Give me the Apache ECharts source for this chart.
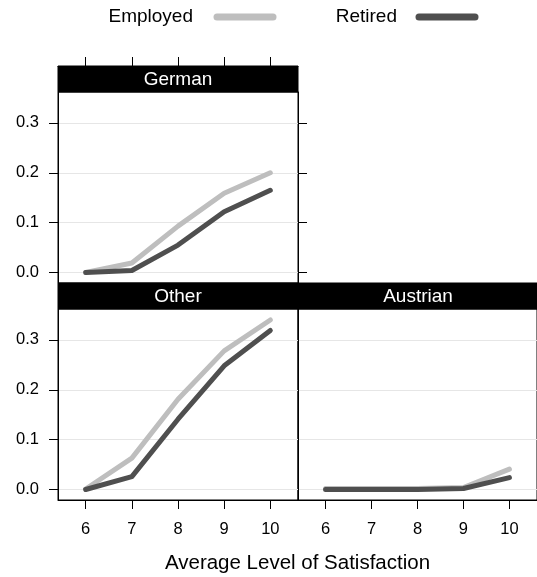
<!DOCTYPE html>
<html>
<head>
<meta charset="utf-8">
<script src="https://cdn.jsdelivr.net/npm/echarts@6/dist/echarts.min.js"></script>
<style>
html,body{margin:0;padding:0;background:#fff;}
#chart{width:537px;height:577px;}
</style>
</head>
<body>
<div id="chart"></div>
<script>
// ---- data ----
var levels = [6, 7, 8, 9, 10];
var yTicks = [0, 0.1, 0.2, 0.3];
var panels = ['German', 'Other', 'Austrian'];
var germanEmployed = [0.000, 0.019, 0.093, 0.159, 0.200];
var germanRetired  = [0.000, 0.004, 0.055, 0.122, 0.165];
var otherEmployed  = [0.001, 0.063, 0.181, 0.278, 0.340];
var otherRetired   = [0.000, 0.026, 0.141, 0.248, 0.319];
var austrianEmployed = [0.002, 0.002, 0.002, 0.004, 0.041];
var austrianRetired  = [0.000, 0.000, 0.000, 0.002, 0.024];
var groups = ['Employed', 'Retired'];
var xTitle = 'Average Level of Satisfaction';

// ---- layout ----
var FONT = '"Liberation Sans", Arial, Helvetica, sans-serif';
var colEmp = '#bebebe', colRet = '#4f4f4f';
var panelW = 240, panelH = 191, stripH = 26;
var boxes = [
  {left: 58, top: 92},
  {left: 58, top: 309},
  {left: 298, top: 309}
];
var yMin = -0.021, yMax = 0.362, xMin = 5.4, xMax = 10.6;

function pairs(vals) { return levels.map(function (l, i) { return [l, vals[i]]; }); }

var grids = boxes.map(function (b) {
  return {left: b.left, top: b.top, width: panelW, height: panelH,
          show: true, borderColor: '#000', borderWidth: 1, backgroundColor: 'transparent', containLabel: false};
});

var tickStyle = {show: true, inside: false, length: 9, lineStyle: {color: '#000', width: 1}};
var lblStyle = {show: true, color: '#000', fontSize: 16.5, fontFamily: FONT, margin: 19};

function xAxis(gi, pos, labels, offset) {
  return {type: 'value', gridIndex: gi, position: pos, offset: offset || 0, min: xMin, max: xMax,
    axisLine: {show: true, onZero: false, lineStyle: {color: '#000', width: 1}},
    axisTick: Object.assign({customValues: levels}, tickStyle),
    axisLabel: Object.assign({customValues: levels}, lblStyle, {show: labels, margin: 21}),
    splitLine: {show: false}};
}
function yAxis(gi, pos, labels, ticks, split) {
  return {type: 'value', gridIndex: gi, position: pos, min: yMin, max: yMax,
    axisLine: {show: true, onZero: false, lineStyle: {color: '#000', width: 1}},
    axisTick: Object.assign({customValues: yTicks}, tickStyle, {show: ticks}),
    axisLabel: Object.assign({customValues: yTicks, formatter: function (v) { return v.toFixed(1); }}, lblStyle, {show: labels}),
    splitLine: {show: split, lineStyle: {color: '#e6e6e6', width: 1}}};
}

var xAxes = [
  xAxis(0, 'top', false, stripH),
  xAxis(1, 'bottom', true),
  xAxis(2, 'bottom', true)
];
var yAxes = [
  yAxis(0, 'left', true, true, true),
  yAxis(0, 'right', false, true, false),
  yAxis(1, 'left', true, true, true),
  yAxis(2, 'left', false, false, true)
];

function line(name, vals, xi, yi, color) {
  return {type: 'line', name: name, xAxisIndex: xi, yAxisIndex: yi, data: pairs(vals),
    showSymbol: false, symbol: 'none', silent: true, animation: false,
    lineStyle: {color: color, width: 5, cap: 'round', join: 'round'}, z: color === colRet ? 3 : 2};
}
var series = [
  line(groups[0], germanEmployed, 0, 0, colEmp),
  line(groups[1], germanRetired, 0, 0, colRet),
  line(groups[0], otherEmployed, 1, 2, colEmp),
  line(groups[1], otherRetired, 1, 2, colRet),
  line(groups[0], austrianEmployed, 2, 3, colEmp),
  line(groups[1], austrianRetired, 2, 3, colRet)
];

var graphics = [];
boxes.forEach(function (b, i) {
  graphics.push({type: 'rect', shape: {x: b.left, y: b.top - stripH, width: panelW, height: stripH},
    style: {fill: '#000', stroke: '#000', lineWidth: 1}, z: 10});
  graphics.push({type: 'text', x: b.left + panelW / 2, y: b.top - stripH / 2 + 0.5, z: 11,
    style: {text: panels[i], fill: '#fff', font: '19px ' + FONT, align: 'center', verticalAlign: 'middle'}});
});
// legend (text then line sample)
[{t: groups[0], tx: 193, lx: 214, c: colEmp}, {t: groups[1], tx: 397, lx: 416, c: colRet}].forEach(function (k) {
  graphics.push({type: 'text', x: k.tx, y: 17, style: {text: k.t, fill: '#000', font: '19px ' + FONT, align: 'right', verticalAlign: 'middle'}});
  graphics.push({type: 'line', shape: {x1: k.lx + 3, y1: 17, x2: k.lx + 59, y2: 17}, style: {stroke: k.c, lineWidth: 7, lineCap: 'round'}});
});
graphics.push({type: 'text', x: 297.5, y: 563, style: {text: xTitle, fill: '#000', font: '20.5px ' + FONT, align: 'center', verticalAlign: 'middle'}});

var chart = echarts.init(document.getElementById('chart'), null, {renderer: 'canvas'});
chart.setOption({
  animation: false,
  backgroundColor: '#fff',
  grid: grids,
  xAxis: xAxes,
  yAxis: yAxes,
  series: series,
  graphic: graphics
});
</script>
</body>
</html>
